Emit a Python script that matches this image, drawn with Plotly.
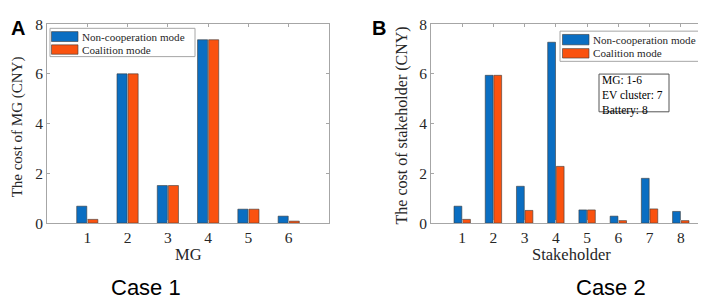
import plotly.graph_objects as go

# ---- data ----
series_names = ["Non-cooperation mode", "Coalition mode"]
mg_categories = [1, 2, 3, 4, 5, 6]
mg_noncoop = [0.68, 6.0, 1.51, 7.37, 0.56, 0.28]
mg_coalition = [0.15, 6.0, 1.51, 7.37, 0.56, 0.08]

sh_categories = [1, 2, 3, 4, 5, 6, 7, 8]
sh_noncoop = [0.68, 5.94, 1.48, 7.27, 0.53, 0.28, 1.8, 0.47]
sh_coalition = [0.15, 5.94, 0.51, 2.28, 0.53, 0.1, 0.57, 0.1]

y_ticks = [0, 2, 4, 6, 8]
info_lines = ["MG: 1-6", "EV cluster: 7", "Battery: 8"]

# ---- style ----
W, H = 706, 300
BLUE = "#0A6EC2"
ORANGE = "#FA520F"
AXIS = "#A6A6A6"
TXT = "#262626"
SERIF = "Liberation Serif, Times New Roman, serif"
SANS = "Liberation Sans, Arial, sans-serif"


def px(x):
    return x / W


def py(y):
    return 1 - y / H


fig = go.Figure()
for xs, nc, co, xa, ya in [
    (mg_categories, mg_noncoop, mg_coalition, "x", "y"),
    (sh_categories, sh_noncoop, sh_coalition, "x2", "y2"),
]:
    for name, vals, col in [(series_names[0], nc, BLUE), (series_names[1], co, ORANGE)]:
        fig.add_trace(go.Bar(
            x=xs, y=vals, name=name, xaxis=xa, yaxis=ya, showlegend=False,
            marker=dict(color=col, line=dict(color="#3a3a3a", width=0.6)),
        ))

axis_common = dict(
    showline=True, linecolor=AXIS, linewidth=1, mirror="ticks",
    ticks="inside", ticklen=3, tickcolor=AXIS, showgrid=False, zeroline=False,
    tickfont=dict(family=SERIF, size=15.5, color=TXT),
    ticklabeloverflow="allow",
)

fig.update_layout(
    width=W, height=H,
    margin=dict(l=0, r=0, t=0, b=0),
    paper_bgcolor="white", plot_bgcolor="white",
    barmode="group", bargap=0.45, bargroupgap=0.09,
    xaxis=dict(domain=[px(39), px(321)], range=[0, 7], tickvals=mg_categories,
               anchor="y", **axis_common),
    yaxis=dict(domain=[py(218.5), py(7.5)], range=[0, 8], tickvals=y_ticks,
               anchor="x", **axis_common),
    xaxis2=dict(domain=[px(423), px(704)], range=[0, 9], tickvals=sh_categories,
                anchor="y2", **axis_common),
    yaxis2=dict(domain=[py(218.5), py(7.5)], range=[0, 8], tickvals=y_ticks,
                anchor="x2", **axis_common),
    showlegend=False,
)

ann = []
shapes = []


def text(x, y, s, size, family=SERIF, xanchor="center", yanchor="middle", angle=0,
         color=TXT, align="center"):
    ann.append(dict(x=px(x), y=py(y), xref="paper", yref="paper", text=s, showarrow=False,
                    xanchor=xanchor, yanchor=yanchor, textangle=angle, align=align,
                    font=dict(family=family, size=size, color=color)))


def rect(x0, y0, x1, y1, fill, line, lw=1):
    shapes.append(dict(type="rect", xref="paper", yref="paper",
                       x0=px(x0), x1=px(x1), y0=py(y1), y1=py(y0),
                       fillcolor=fill, line=dict(color=line, width=lw)))


# axis titles
text(9, 117, "The cost of MG (CNY)", 15, angle=-90)
text(181, 252, "MG", 16.5)
text(394, 115, "The cost of stakeholder (CNY)", 16, angle=-90)
text(563, 252, "Stakeholder", 16.5)

# panel labels & captions
text(10, 12, "<b>A</b>", 20, family=SANS, color="black")
text(371, 12, "<b>B</b>", 20, family=SANS, color="black")
text(138, 287, "Case 1", 22, family=SANS, color="black")
text(603, 287, "Case 2", 22, family=SANS, color="black")

# legends (drawn)
for (bx0, by0, bx1, by1, sx0, sx1, rows) in [
    (42, 12, 187, 42, 43.5, 70, [(15.5, 26, 21), (29.5, 39.5, 35)]),
    (552, 15, 695, 47, 554.5, 581, [(18.5, 29.5, 24), (33.5, 43.5, 38.5)]),
]:
    rect(bx0, by0, bx1, by1, "white", AXIS)
    for (name, col), (ry0, ry1, ty) in zip([(series_names[0], BLUE), (series_names[1], ORANGE)], rows):
        rect(sx0, ry0, sx1, ry1, col, "#3a3a3a", 0.6)
        text(sx1 + 1.5, ty, name, 11.1, xanchor="left")

# info box
rect(591, 60.5, 661, 100.5, "white", "#555555")
text(592, 83, "<br>".join(info_lines), 11.5, xanchor="left", color="black", align="left")

fig.update_layout(annotations=ann, shapes=shapes)
fig.write_html("out.html")
